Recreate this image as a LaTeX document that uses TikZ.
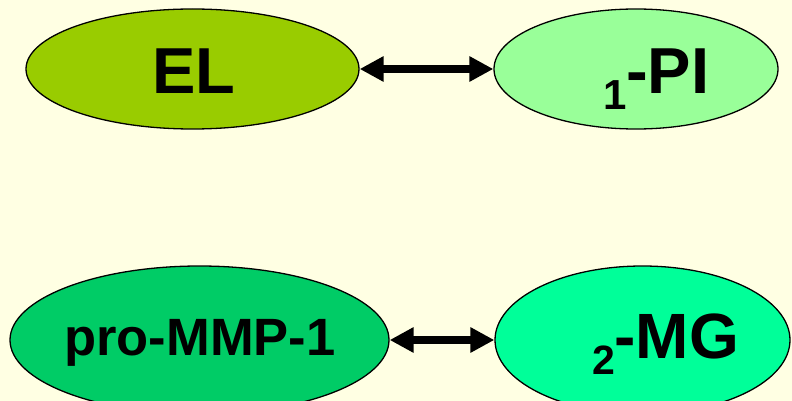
\documentclass[tikz,border=0pt]{standalone}
\usepackage{fontspec}
\setmainfont{Liberation Sans}
\usetikzlibrary{shapes.geometric,arrows.meta}
\definecolor{bg}{HTML}{FFFFE3}
\definecolor{elcol}{HTML}{99CC00}
\definecolor{picol}{HTML}{99FF99}
\definecolor{mmpcol}{HTML}{00CC66}
\definecolor{mgcol}{HTML}{00FF99}
\tikzset{
  blob/.style={ellipse, draw=black, line width=1.3pt, inner sep=0pt},
  lbl/.style={inner sep=0pt, outer sep=0pt, font=\bfseries},
  link/.style={line width=7.5pt, {Triangle[width=24pt,length=24pt]}-{Triangle[width=24pt,length=24pt]}}
}
\begin{document}
\begin{tikzpicture}[x=1pt,y=-1pt]
\fill[bg] (0,0) rectangle (792,401);
\useasboundingbox (0,0) rectangle (792,401);
% ellipses
\node[blob, fill=elcol, minimum width=333pt, minimum height=120pt] (EL) at (192.5,69) {};
\node[blob, fill=picol, minimum width=284pt, minimum height=120pt] (PI) at (636,69) {};
\node[blob, fill=mmpcol, minimum width=379pt, minimum height=148pt] (MMP) at (199.5,340) {};
\node[blob, fill=mgcol, minimum width=295pt, minimum height=148pt] (MG) at (642.5,340) {};
% texts
\node[lbl, anchor=base, font=\bfseries\fontsize{65}{70}\selectfont] (tEL) at (194,94) {EL};
\node[lbl, anchor=base, font=\bfseries\fontsize{42}{46}\selectfont] (tPIsub) at (615,110) {1};
\node[lbl, anchor=base west, font=\bfseries\fontsize{65}{70}\selectfont] (tPI) at (626,94) {-PI};
\node[lbl, anchor=base, font=\bfseries\fontsize{52.5}{58}\selectfont] (tMMP) at (200,355) {pro-MMP-1};
\node[lbl, anchor=base, font=\bfseries\fontsize{41}{45}\selectfont] (tMGsub) at (603.5,374) {2};
\node[lbl, anchor=base west, font=\bfseries\fontsize{64}{68}\selectfont] (tMG) at (614.5,358) {-MG};
% connectors
\draw[link] (EL) -- (PI);
\draw[link] (MMP) -- (MG);
\end{tikzpicture}
\end{document}
